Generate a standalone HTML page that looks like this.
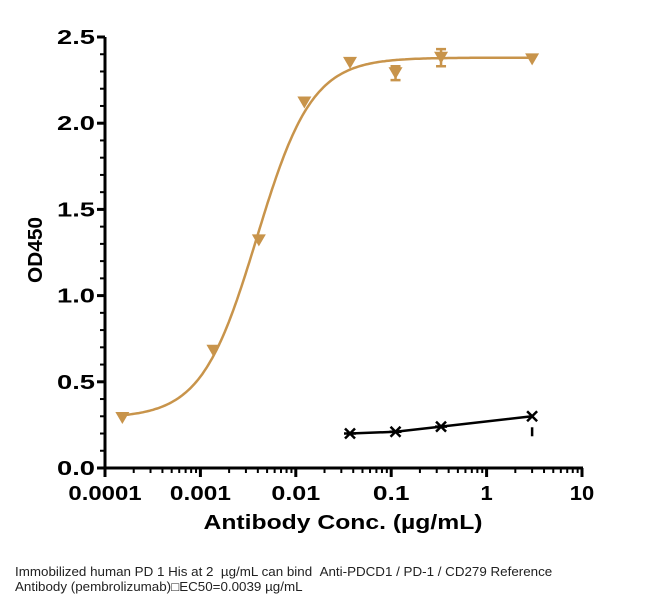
<!DOCTYPE html>
<html><head><meta charset="utf-8"><style>
body{margin:0;background:#fff;width:659px;height:604px;overflow:hidden;position:relative}
svg{position:absolute;left:0;top:0}
.cap{position:absolute;left:15px;font:12.5px "Liberation Sans",sans-serif;color:#222;white-space:nowrap;transform:scaleX(1.07);transform-origin:0 0}
</style></head><body>
<svg width="659" height="604" id="svg"></svg>
<div class="cap" style="top:565px">Immobilized human PD 1 His at 2 &nbsp;µg/mL can bind &nbsp;Anti-PDCD1 / PD-1 / CD279 Reference</div>
<div class="cap" style="top:580px">Antibody (pembrolizumab)&#9633;EC50=0.0039 µg/mL</div>
<script>
const goldX=[0.000152,0.00137,0.0041,0.0123,0.037,0.111,0.333,3];
const goldY=[0.29,0.68,1.32,2.12,2.35,2.29,2.38,2.37];
const goldErr=[0,0,0,0,0,0.04,0.05,0];
const blackX=[0.037,0.111,0.333,3];
const blackY=[0.20,0.21,0.24,0.30];
const yTicks=[0,0.5,1.0,1.5,2.0,2.5];
const yTickLabels=["0.0","0.5","1.0","1.5","2.0","2.5"];
const xTicks=[0.0001,0.001,0.01,0.1,1,10];
const xTickLabels=["0.0001","0.001","0.01","0.1","1","10"];
const fitBottom=0.29, fitTop=2.38, fitEC50=0.0039, fitHill=1.5;

const svg=document.getElementById('svg');
const NS='http://www.w3.org/2000/svg';
const X0=105,X1=582,Y0=468,Y1=37;
const xs=v=>X0+(Math.log10(v)+4)/5*(X1-X0);
const ys=v=>Y0-v/2.5*(Y0-Y1);
function mk(t,a,p){const e=document.createElementNS(NS,t);for(const k in a)e.setAttribute(k,a[k]);(p||svg).appendChild(e);return e;}
const gold='#c8944b';
const F='Liberation Sans,sans-serif';
let ax=mk('line',{x1:X0,y1:Y1,x2:X0,y2:Y0+1.5,stroke:'#000','stroke-width':3});


ax=mk('line',{x1:X0-1.5,y1:Y0,x2:X1+1,y2:Y0,stroke:'#000','stroke-width':3});


for(let i=0;i<=25;i++){const v=i*0.1;const maj=i%5==0;
 mk('line',{x1:X0-(maj?8:5),x2:X0,y1:ys(v),y2:ys(v),stroke:'#000','stroke-width':maj?3:2});}
yTicks.forEach((v,i)=>{const t=mk('text',{x:X0-10,y:ys(v)+7,'text-anchor':'end','font-family':F,'font-weight':'bold','font-size':20,textLength:38,lengthAdjust:'spacingAndGlyphs'});t.textContent=yTickLabels[i];
 
 });
for(let d=-4;d<1;d++)for(let m=1;m<10;m++){const v=m*Math.pow(10,d);const maj=m==1;
 mk('line',{x1:xs(v),x2:xs(v),y1:Y0,y2:Y0+(maj?9:5),stroke:'#000','stroke-width':maj?3:2});}
mk('line',{x1:xs(10),x2:xs(10),y1:Y0,y2:Y0+9,stroke:'#000','stroke-width':3});
xTicks.forEach((v,i)=>{const t=mk('text',{x:xs(v),y:Y0+32,'text-anchor':'middle','font-family':F,'font-weight':'bold','font-size':20,textLength:xTickLabels[i].length*12.2,lengthAdjust:'spacingAndGlyphs'});t.textContent=xTickLabels[i];
 
 });
let t=mk('text',{x:343,y:529,'text-anchor':'middle','font-family':F,'font-weight':'bold','font-size':20,textLength:279,lengthAdjust:'spacingAndGlyphs'});t.textContent='Antibody Conc. (µg/mL)';


t=mk('text',{x:0,y:0,transform:'translate(42,250) rotate(-90)','text-anchor':'middle','font-family':F,'font-weight':'bold','font-size':20,textLength:66,lengthAdjust:'spacingAndGlyphs'});t.textContent='OD450';


let d='';for(let i=0;i<=200;i++){const lx=Math.log10(goldX[0])+i/200*(Math.log10(goldX[goldX.length-1])-Math.log10(goldX[0]));const v=Math.pow(10,lx);
 const y=fitBottom+(fitTop-fitBottom)/(1+Math.pow(fitEC50/v,fitHill));d+=(i?'L':'M')+xs(v).toFixed(1)+','+ys(y).toFixed(1);}
let c=mk('path',{d:d,fill:'none',stroke:gold,'stroke-width':2.5});


goldX.forEach((v,i)=>{const x=xs(v),y=ys(goldY[i]);
 if(goldErr[i]){const e=goldErr[i];mk('path',{d:`M${x},${ys(goldY[i]+e)}V${ys(goldY[i]-e)}M${x-5},${ys(goldY[i]+e)}h10M${x-5},${ys(goldY[i]-e)}h10`,stroke:gold,'stroke-width':2.5,fill:'none'});}
 const p=mk('path',{d:`M${x-7},${y-6}L${x+7},${y-6}L${x},${y+6}Z`,fill:gold});
 
 });
d='';blackX.forEach((v,i)=>{d+=(i?'L':'M')+xs(v)+','+ys(blackY[i]);});
c=mk('path',{d:d,fill:'none',stroke:'#000','stroke-width':2.5});


blackX.forEach((v,i)=>{const x=xs(v),y=ys(blackY[i]);
 const p=mk('path',{d:`M${x-5},${y-5}L${x+5},${y+5}M${x+5},${y-5}L${x-5},${y+5}`+(i<3?`M${x-6},${y}h12`:''),stroke:'#000','stroke-width':2.5});
 
 });
mk('line',{x1:xs(3),x2:xs(3),y1:ys(blackY[3])+11,y2:ys(blackY[3])+20,stroke:'#000','stroke-width':2.5});
</script>
</body></html>
